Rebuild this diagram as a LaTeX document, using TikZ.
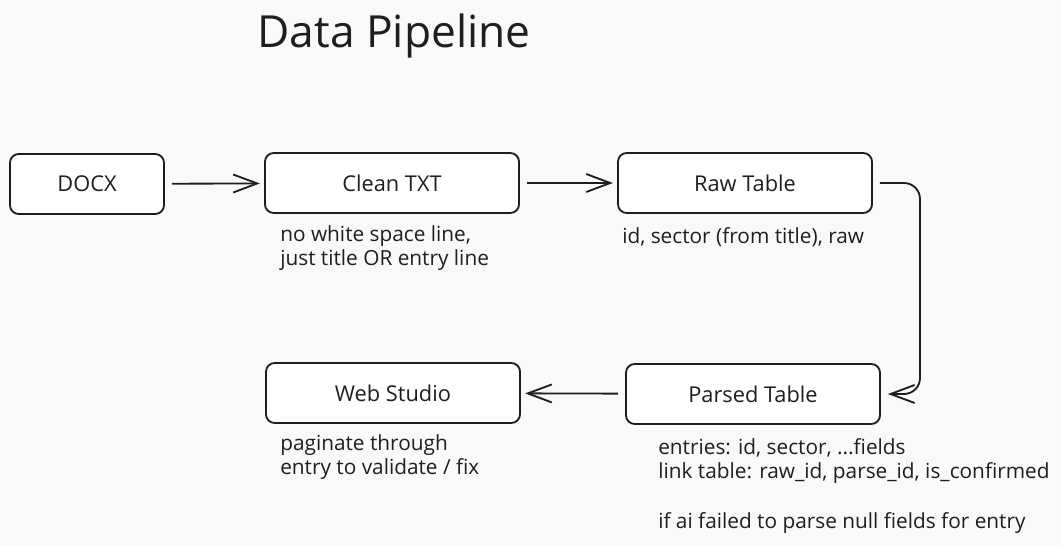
\documentclass[tikz,border=0pt]{standalone}
\usepackage{fontspec}
\setmainfont{Open Sans}
\usetikzlibrary{arrows.meta}
\definecolor{ink}{HTML}{1E1E1E}
\definecolor{paper}{HTML}{F8F9FA}
\begin{document}
\begin{tikzpicture}[x=0.025cm,y=-0.025cm,
		stage/.style={draw=ink,fill=white,line width=1.3pt,rounded corners=0.22cm,minimum width=6.35cm,minimum height=1.5cm,font=\fontsize{15.5}{18}\selectfont,text=ink},
		note/.style={align=left,anchor=north west,inner sep=0pt,font=\fontsize{14.8}{17.6}\selectfont,text=ink},
		conn/.style={draw=ink,line width=1.3pt,-{Straight Barb[length=0.6cm,width=0.45cm,line width=1.3pt]}}]
		\fill[paper] (0,0) rectangle (1061,546);
		\node[text=ink,font=\fontsize{31.5}{34}\selectfont,name=title] at (394,36) {Data Pipeline};
		% top row
		\node[stage,minimum width=3.85cm,name=docx] at (87,184) {DOCX};
		\node[stage,name=clean] at (392,183) {Clean TXT};
		\node[stage,name=raw] at (745,183) {Raw Table};
		% bottom row
		\node[stage,name=parsed] at (753,394) {Parsed Table};
		\node[stage,name=web] at (393,393) {Web Studio};
		% notes
		\node[note,name=cleannote] at (280,225) {no white space line,\\just title OR entry line};
		\node[note,name=rawnote] at (622,227) {id, sector (from title), raw};
		\node[note,name=webnote] at (280,434) {paginate through\\entry to validate / fix};
		\node[note,name=parsednote] at (658,438) {entries: id, sector, ...fields\\link table: raw\_id, parse\_id, is\_confirmed\\[17.6pt]if ai failed to parse null fields for entry};
		% connectors
		\draw[conn,shorten <=5pt,shorten >=3pt] (docx) -- (clean);
		\draw[conn,shorten <=5pt,shorten >=3pt] (clean) -- (raw);
		\coordinate (bend) at (920,183);
		\draw[conn,rounded corners=0.4cm,shorten <=5pt,shorten >=5pt] (raw.east) -| (bend |- parsed.east) -- (parsed.east);
		\draw[conn,shorten <=5pt,shorten >=3pt] (parsed) -- (web);
	\end{tikzpicture}
\end{document}
